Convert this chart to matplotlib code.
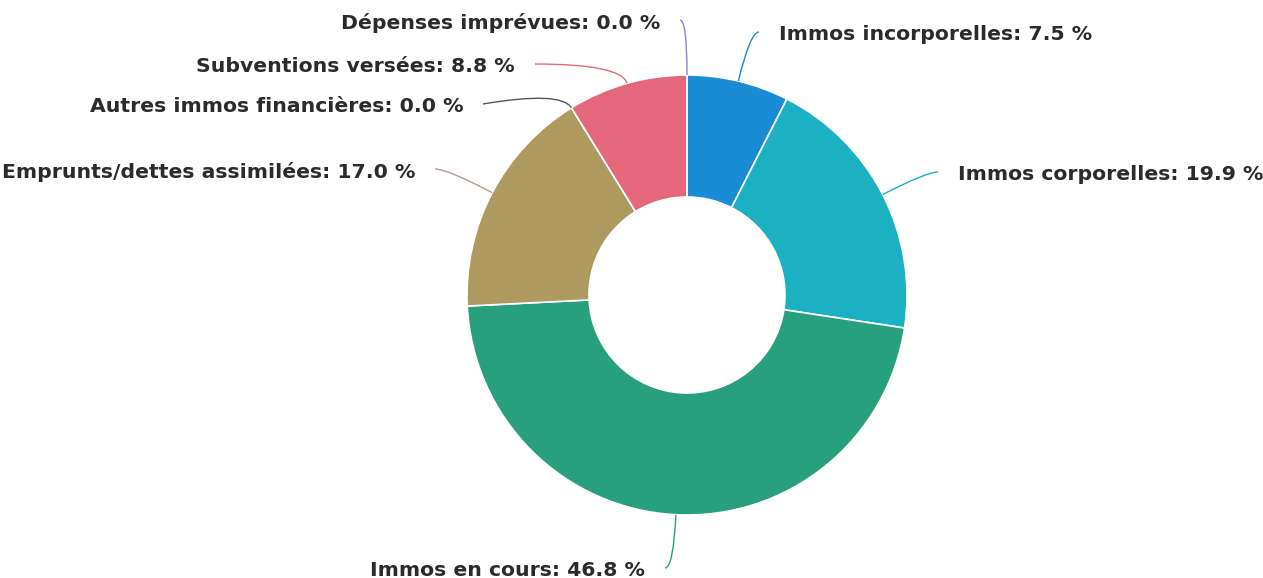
import numpy as np
import matplotlib
matplotlib.use("Agg")
import matplotlib.pyplot as plt
from matplotlib.path import Path
from matplotlib.patches import PathPatch

# ---- données ----
categories = [
    "Immos incorporelles",
    "Immos corporelles",
    "Immos en cours",
    "Emprunts/dettes assimilées",
    "Autres immos financières",
    "Subventions versées",
    "Dépenses imprévues",
]
values = [7.5, 19.9, 46.8, 17.0, 0.0, 8.8, 0.0]
colors = ["#1a8bd5", "#1cb0c3", "#28a07d", "#ae9a5f", "#4c5e4c", "#e5677c", "#8f80e0"]
line_colors = ["#1a8bd5", "#1cb0c3", "#28a07d", "#b89a90", "#4c5e4c", "#e5677c", "#8f80e0"]

# positions des étiquettes en pixels (x d'ancrage, y, alignement)
label_pos = [
    (779, 35, "left"),
    (958, 175, "left"),
    (645, 571, "right"),
    (415, 172, "right"),
    (463, 107, "right"),
    (515, 67, "right"),
    (660, 23, "right"),
]

W, H = 1263, 578
cx, cy = 687, 295
r_out, r_in = 220, 98

fig = plt.figure(figsize=(W / 100, H / 100), dpi=100)
ax = fig.add_axes([0, 0, 1, 1])


def fy(y):
    return H - y


ax.pie(
    values,
    colors=colors,
    startangle=90,
    counterclock=False,
    center=(cx, fy(cy)),
    radius=r_out,
    wedgeprops={"width": r_out - r_in, "edgecolor": "white", "linewidth": 1.2},
    frame=True,
)
ax.set_xlim(0, W)
ax.set_ylim(0, H)
ax.set_aspect("equal")
ax.axis("off")

total = sum(values)
cum = 0.0
for name, v, lc, (lx, ly, ha) in zip(categories, values, line_colors, label_pos):
    mid = (cum + v / 2) / total * 2 * np.pi
    cum += v
    dx, dy = np.sin(mid), -np.cos(mid)
    sx, sy = cx + r_out * dx, cy + r_out * dy
    ex = lx + (-20 if ha == "left" else 20)
    ey = ly - 3
    # coude : prolongement radial jusqu'à la hauteur de l'étiquette
    t = (ey - sy) / dy if abs(dy) > 0.2 else 20
    t = max(t, 20)
    kx, ky = sx + t * dx, sy + t * dy
    path = Path(
        [(sx, fy(sy)), (kx, fy(ky)), (ex, fy(ey))],
        [Path.MOVETO, Path.CURVE3, Path.CURVE3],
    )
    ax.add_patch(PathPatch(path, fill=False, edgecolor=lc, linewidth=1.0))
    ax.text(
        lx, fy(ly), f"{name}: {v:.1f} %",
        ha=ha, va="center", fontsize=14.7, fontweight="bold",
        color="#2b2b2b", family="DejaVu Sans",
    )

fig.savefig("out.png", dpi=100, facecolor="white")
